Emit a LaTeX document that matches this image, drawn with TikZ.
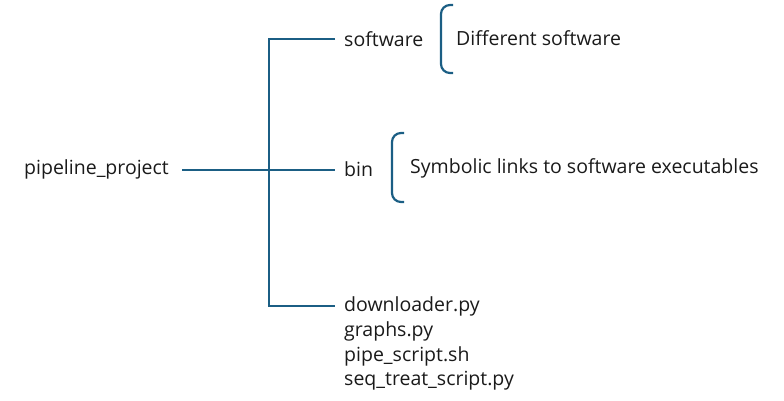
\documentclass[tikz,border=0pt]{standalone}
\usepackage{fontspec}
\setmainfont{Open Sans}
\definecolor{linec}{HTML}{1B5E84}
\definecolor{textc}{HTML}{1A1A1A}
\tikzset{
  lbl/.style={anchor=west, inner sep=0pt, font=\fontsize{19.5}{23}\selectfont, text=textc},
  conn/.style={draw=linec, line width=2.2pt},
  brk/.style={draw=linec, line width=2.2pt, rounded corners=9pt}
}
\begin{document}
\begin{tikzpicture}[x=1pt,y=-1pt]
\useasboundingbox (0,0) rectangle (784,400);
\node[lbl] (root) at (24,169) {pipeline\_project};
\node[lbl] (sw) at (344,39) {software};
\node[lbl] (bin) at (344,169) {bin};
\node[lbl] (dl) at (344,306) {downloader.py};
\node[lbl] (gr) at (344,331) {graphs.py};
\node[lbl] (ps) at (344,356) {pipe\_script.sh};
\node[lbl] (sq) at (344,381) {seq\_treat\_script.py};
\node[lbl] (dsw) at (456,38) {Different software};
\node[lbl] (sym) at (410,168) {Symbolic links to software executables};
\coordinate (ja) at (269,39);
\coordinate (jb) at (269,306);
\coordinate (rs) at (182,170);
\draw[conn] (rs) -- (335,170) coordinate (be);
\draw[conn] (335,39) coordinate (se) -- (ja) -- (jb) -- (335,306) coordinate (de);
\draw[brk] (453,5) -- (441,5) -- (441,73) -- (453,73);
\draw[brk] (404,133) -- (392,133) -- (392,202) -- (404,202);
\end{tikzpicture}
\end{document}
